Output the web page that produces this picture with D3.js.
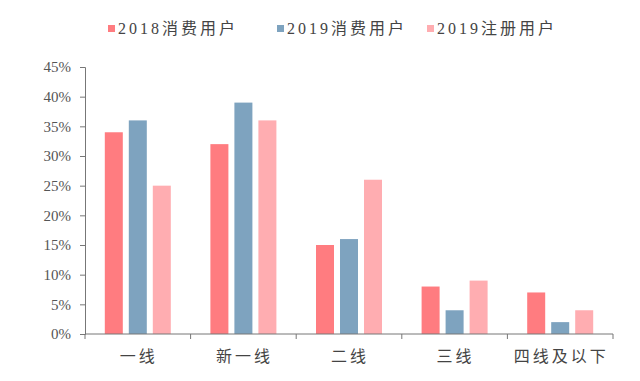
<!DOCTYPE html>
<html>
<head>
<meta charset="utf-8">
<script src="https://cdn.jsdelivr.net/npm/d3@7/dist/d3.min.js"></script>
<style>
  body { margin: 0; background: #fff; }
  svg text { font-family: "Liberation Serif", "Noto Sans CJK SC", serif; }
</style>
</head>
<body>
<div id="plot"></div>
<script>
// data
var categories = ["一线", "新一线", "二线", "三线", "四线及以下"];
var seriesNames = ["2018消费用户", "2019消费用户", "2019注册用户"];
var consume2018 = [34, 32, 15, 8, 7];
var consume2019 = [36, 39, 16, 4, 2];
var register2019 = [25, 36, 26, 9, 4];
var yTicks = [0, 5, 10, 15, 20, 25, 30, 35, 40, 45];

var colors = ["#ff7c80", "#7ea3bf", "#ffadb1"];
var allSeries = [consume2018, consume2019, register2019];

var width = 640, height = 381;
var plotLeft = 85, plotRight = 613, plotTop = 67, plotBottom = 334;

var svg = d3.select("#plot").append("svg")
  .attr("width", width)
  .attr("height", height);

var x = d3.scaleBand()
  .domain(categories)
  .range([plotLeft, plotRight]);

var groupW = 66;
var xs = d3.scaleBand()
  .domain(seriesNames)
  .range([0, groupW])
  .paddingInner(0.25);

var y = d3.scaleLinear()
  .domain([0, 45])
  .range([plotBottom, plotTop]);

// bars
seriesNames.forEach(function (s, si) {
  svg.append("g")
    .selectAll("rect")
    .data(allSeries[si])
    .enter()
    .append("rect")
      .attr("x", (d, i) => x(categories[i]) + (x.bandwidth() - groupW) / 2 + xs(s))
      .attr("y", d => y(d))
      .attr("width", xs.bandwidth())
      .attr("height", d => plotBottom - y(d))
      .attr("fill", colors[si]);
});

// y axis
var yAxis = svg.append("g")
  .attr("transform", "translate(" + plotLeft + ",0)")
  .call(d3.axisLeft(y).tickValues(yTicks).tickFormat(d => d + "%").tickSize(5).tickPadding(9));
yAxis.selectAll("line, path").attr("stroke", "#777");
yAxis.selectAll("text")
  .attr("fill", "#555")
  .style("font-size", "15px");

// x axis (ticks at band edges)
var xAxis = svg.append("g")
  .attr("transform", "translate(0," + plotBottom + ")");
xAxis.append("line")
  .attr("x1", plotLeft).attr("x2", plotRight)
  .attr("stroke", "#777");
var edges = categories.map(c => x(c)).concat([plotRight]);
xAxis.selectAll(".tk")
  .data(edges)
  .enter()
  .append("line")
    .attr("x1", d => d).attr("x2", d => d)
    .attr("y1", 0).attr("y2", 5)
    .attr("stroke", "#777");
xAxis.selectAll(".lbl")
  .data(categories)
  .enter()
  .append("text")
    .attr("x", d => x(d) + x.bandwidth() / 2 + 1)
    .attr("y", 28)
    .attr("text-anchor", "middle")
    .attr("fill", "#444")
    .style("font-size", "16px")
    .style("letter-spacing", "3px")
    .text(d => d);

// legend
var legendX = [108, 277, 427];
var legend = svg.append("g");
seriesNames.forEach(function (s, i) {
  legend.append("rect")
    .attr("x", legendX[i]).attr("y", 25)
    .attr("width", 7).attr("height", 7)
    .attr("fill", colors[i]);
  legend.append("text")
    .attr("x", legendX[i] + 10)
    .attr("y", 34)
    .attr("fill", "#444")
    .style("font-size", "16px")
    .style("letter-spacing", "3px")
    .text(s);
});
</script>
</body>
</html>
